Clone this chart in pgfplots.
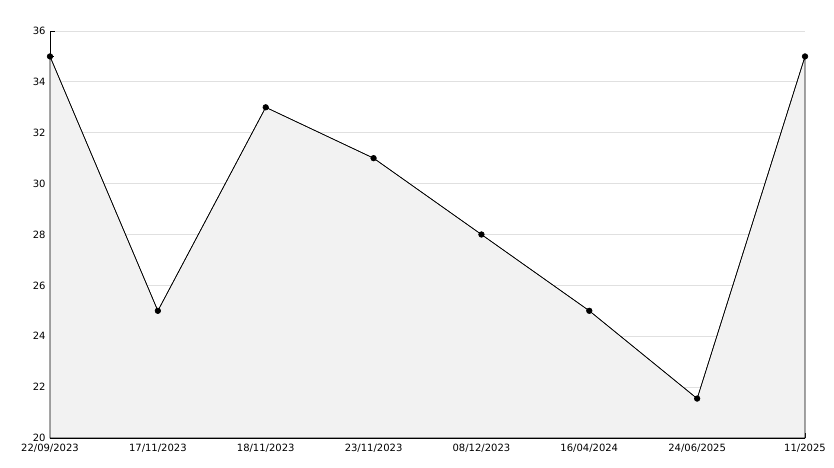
\documentclass[border=0pt]{standalone}
\usepackage{pgfplots}
\pgfplotsset{compat=1.18}
\usepackage{fontspec}
\setmainfont{DejaVu Sans}
\definecolor{areafill}{HTML}{F2F2F2}
\definecolor{gridc}{HTML}{E0E0E0}
\begin{document}
\begin{tikzpicture}[x=1bp,y=1bp]
\path[use as bounding box] (0,0) rectangle (834,468);
\begin{axis}[
  at={(50bp,30bp)}, anchor=origin,
  scale only axis, width=755bp, height=407bp,
  xmin=0, xmax=7, ymin=20, ymax=36,
  clip=false,
  axis x line*=bottom, axis y line*=left,
  axis line style={-, black, line width=0.8pt},
  xtick={0,...,7},
  xticklabels={22/09/2023,17/11/2023,18/11/2023,23/11/2023,08/12/2023,16/04/2024,24/06/2025,11/2025},
  ytick={20,22,...,36},
  minor y tick num=1,
  tick align=inside,
  major tick length=5bp, minor tick length=4bp,
  tick style={black, line width=0.8pt},
  ymajorgrids, grid style={gridc, line width=0.8pt},
  ticklabel style={font=\fontsize{10bp}{12bp}\selectfont},
  /pgf/number format/assume math mode=true,
  yticklabel style={xshift=-1bp},
  xticklabel style={yshift=-2.5bp},
]
\addplot[fill=areafill, draw=black, line width=0.6pt] coordinates {
(0,35) (1,25) (2,33) (3,31) (4,28) (5,25) (6,21.55) (7,35)
} \closedcycle;
\addplot[black, line width=0.6pt, mark=*, mark size=2.8bp, mark options={fill=black}] coordinates {
(0,35) (1,25) (2,33) (3,31) (4,28) (5,25) (6,21.55) (7,35)
};
\end{axis}
\end{tikzpicture}
\end{document}
